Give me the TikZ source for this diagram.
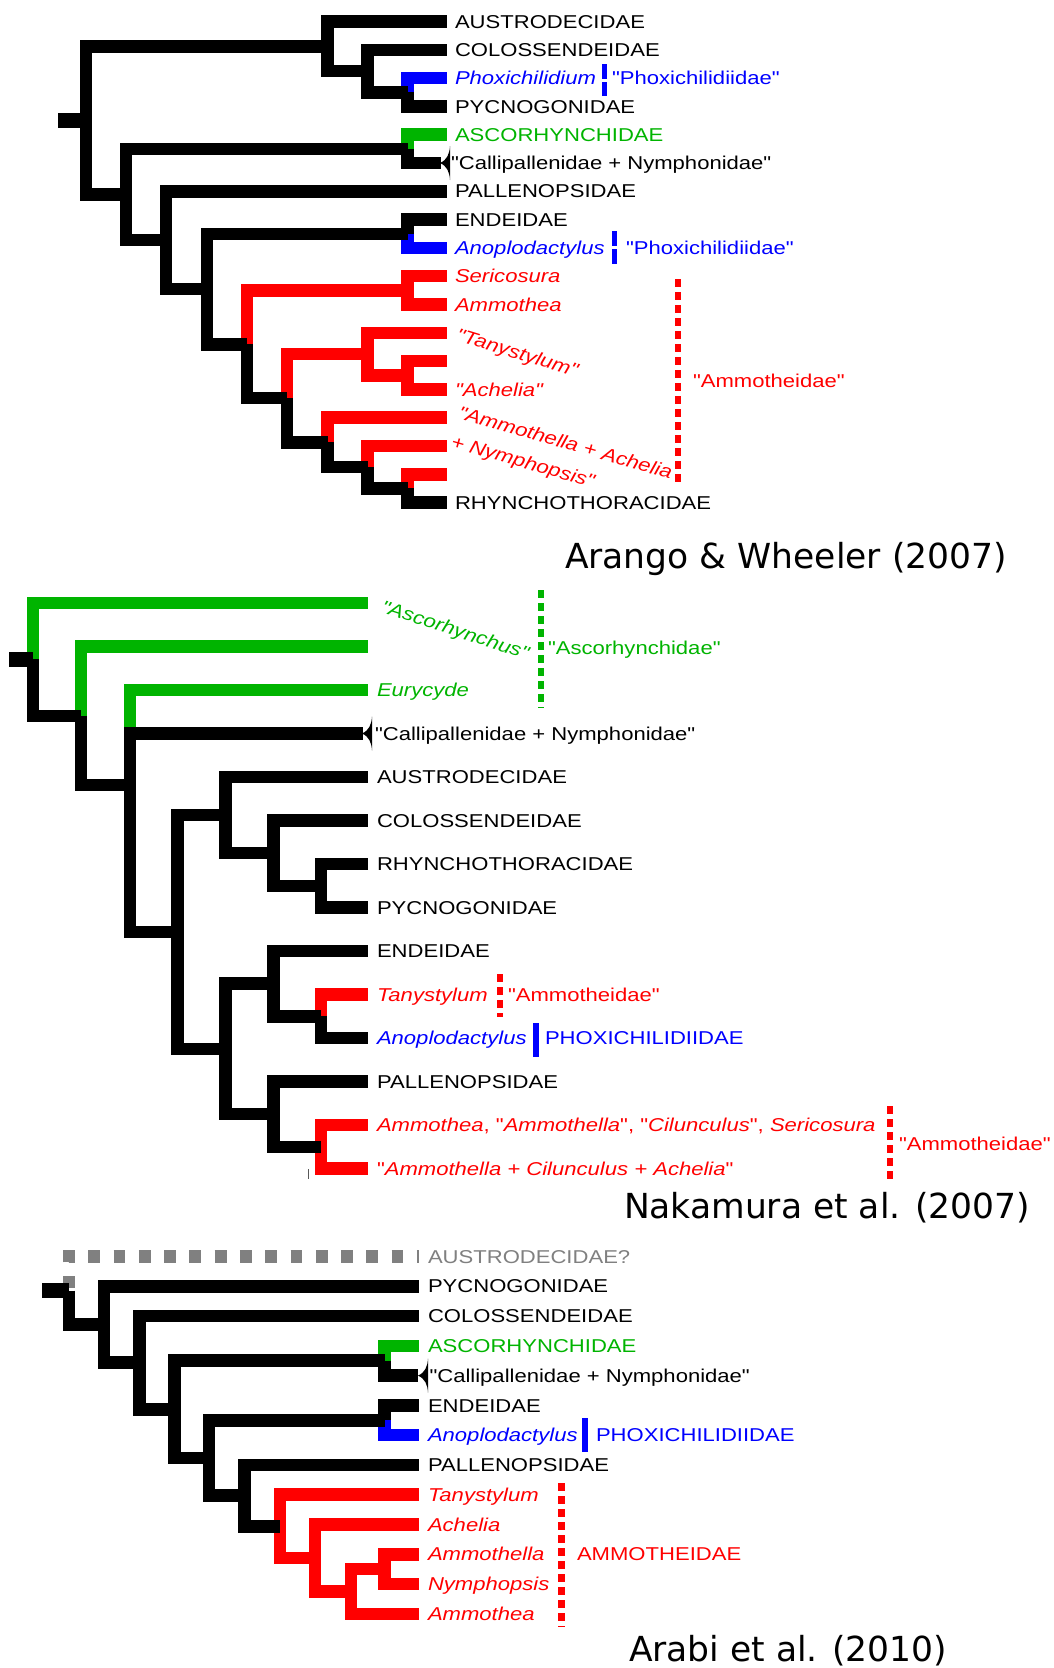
\documentclass[tikz,border=0pt]{standalone}
\usepackage{fontspec}
\newfontfamily\labfam[FakeStretch=1.186]{Liberation Sans}
\newfontfamily\titfam{DejaVu Sans}
\definecolor{cg}{RGB}{0,180,0}
\definecolor{cr}{RGB}{255,0,0}
\definecolor{cb}{RGB}{0,0,255}
\definecolor{cgr}{RGB}{128,128,128}
\begin{document}
\begin{tikzpicture}[x=1pt,y=-1pt,
  br/.style={line width=12.5pt},
  stub/.style={line width=15.5pt},
  lab/.style={anchor=base west, inner sep=0pt, outer sep=0pt, font=\labfam\fontsize{18.6}{22}\selectfont},
  tit/.style={anchor=base west, inner sep=0pt, outer sep=0pt, font=\titfam\fontsize{34.5}{40}\selectfont},
  dbar/.style={line width=6pt, dash pattern=on 8pt off 5pt},
  qbar/.style={line width=5pt, dash pattern=on 15pt off 3pt},
  sbar/.style={line width=5.5pt},
  cladetri/.pic={\fill (0,0) .. controls (7,-3) and (9.5,-9) .. (10,-17) -- (10,17) .. controls (9.5,9) and (7,3) .. (0,0) -- cycle;}
]
\fill[white] (0,0) rectangle (1054,1668);
\useasboundingbox (0,0) rectangle (1054,1668);

% ================= Arango & Wheeler (2007) =================
\coordinate (A0) at (447,21.5);
\coordinate (A1) at (447,49.8);
\coordinate (A2) at (447,78.1);
\coordinate (A3) at (447,106.4);
\coordinate (A4) at (447,134.7);
\coordinate (A5) at (441,163.0);
\coordinate (A6) at (447,191.3);
\coordinate (A7) at (447,219.6);
\coordinate (A8) at (447,247.9);
\coordinate (A9) at (447,276.2);
\coordinate (A10) at (447,304.5);
\coordinate (A11) at (447,332.8);
\coordinate (A12) at (447,361.1);
\coordinate (A13) at (447,389.4);
\coordinate (A14) at (447,417.7);
\coordinate (A15) at (447,446.0);
\coordinate (A16) at (447,474.3);
\coordinate (A17) at (447,502.6);
\coordinate (a1) at (407.5,92.25);
\coordinate (a2) at (367.5,71.0);
\coordinate (a3) at (327.5,46.25);
\coordinate (b1) at (407.5,148.85);
\coordinate (c1) at (407.5,233.75);
\coordinate (d1) at (407.5,290.35);
\coordinate (e1) at (407.5,375.25);
\coordinate (e2) at (367.5,354.0);
\coordinate (f1) at (407.5,488.45);
\coordinate (f2) at (367.5,467.2);
\coordinate (f3) at (327.5,442.45);
\coordinate (g1) at (287,398.2);
\coordinate (g2) at (247,344.3);
\coordinate (h1) at (207,289.0);
\coordinate (h2) at (166,240.15);
\coordinate (h3) at (126,194.5);
\coordinate (ar) at (86,120.4);
\coordinate (as) at (58,120.4);

\draw[br,cb] (a1) |- (A2);
\draw[br,cg] (b1) |- (A4);
\draw[br,cb] (c1) |- (A8);
\draw[br,cr] (g2) |- (d1) (d1) |- (A9) (d1) |- (A10);
\draw[br,cr] (g1) |- (e2) (e2) |- (A11) (e2) |- (e1) (e1) |- (A12) (e1) |- (A13);
\draw[br,cr] (f3) |- (A14) (f2) |- (A15) (f1) |- (A16);
\draw[br] (a3) |- (A0) (a3) |- (a2) (a2) |- (A1) (a2) |- (a1) (a1) |- (A3);
\draw[br] (ar) |- (a3) (ar) |- (h3) (h3) |- (b1) (b1) |- (A5) (h3) |- (h2) (h2) |- (A6)
  (h2) |- (h1) (h1) |- (c1) (c1) |- (A7) (h1) |- (g2) (g2) |- (g1) (g1) |- (f3)
  (f3) |- (f2) (f2) |- (f1) (f1) |- (A17);
\draw[stub] (as) -- (ar);
\pic at (440,163) {cladetri};

\draw[cb,qbar] (604.5,64) -- (604.5,96);
\draw[cb,qbar] (614.5,231) -- (614.5,265);
\draw[cr,dbar] (678,279) -- (678,485);

\node[lab] (LA0) at (455,28.15) {AUSTRODECIDAE};
\node[lab] (LA1) at (455,56.45) {COLOSSENDEIDAE};
\node[lab,cb] (LA2) at (455,84.75) {\itshape Phoxichilidium};
\node[lab,cb] (LA2b) at (612,84.75) {"Phoxichilidiidae"};
\node[lab] (LA3) at (455,113.05) {PYCNOGONIDAE};
\node[lab,cg] (LA4) at (455,141.35) {ASCORHYNCHIDAE};
\node[lab] (LA5) at (451,169.65) {"Callipallenidae + Nymphonidae"};
\node[lab] (LA6) at (455,197.95) {PALLENOPSIDAE};
\node[lab] (LA7) at (455,226.25) {ENDEIDAE};
\node[lab,cb] (LA8) at (455,254.55) {\itshape Anoplodactylus};
\node[lab,cb] (LA8b) at (626,254.55) {"Phoxichilidiidae"};
\node[lab,cr] (LA9) at (455,282.85) {\itshape Sericosura};
\node[lab,cr] (LA10) at (455,311.15) {\itshape Ammothea};
\node[lab,cr,rotate=-17] (LA11) at (455,340) {\itshape "Tanystylum"};
\node[lab,cr] (LA13) at (455,396.05) {\itshape "Achelia"};
\node[lab,cr,rotate=-16] (LA14) at (457,418) {\itshape "Ammothella + Achelia};
\node[lab,cr,rotate=-16] (LA15) at (450,447) {\itshape + Nymphopsis"};
\node[lab] (LA17) at (455,509.25) {RHYNCHOTHORACIDAE};
\node[lab,cr] (LAm) at (693,387.6) {"Ammotheidae"};
\node[tit] (TA) at (565,568) {Arango \& Wheeler (2007)};

% ================= Nakamura et al. (2007) =================
\coordinate (B0) at (368,603);
\coordinate (B1) at (368,646.5);
\coordinate (B2) at (368,690);
\coordinate (B3) at (363,733.5);
\coordinate (B4) at (368,777);
\coordinate (B5) at (368,820.5);
\coordinate (B6) at (368,864);
\coordinate (B7) at (368,907.5);
\coordinate (B8) at (368,951);
\coordinate (B9) at (368,994.5);
\coordinate (B10) at (368,1038);
\coordinate (B11) at (368,1081.5);
\coordinate (B12) at (368,1125);
\coordinate (B13) at (368,1168.5);
\coordinate (m1) at (33,659.4);
\coordinate (ms) at (9,659.4);
\coordinate (m2) at (81,715.8);
\coordinate (m3) at (130,785.2);
\coordinate (mb) at (177.5,931.97);
\coordinate (mau) at (225.5,815.06);
\coordinate (mco) at (273.5,853.1);
\coordinate (mpn) at (321,885.75);
\coordinate (md) at (225.5,1048.9);
\coordinate (men) at (273.5,983.6);
\coordinate (mta) at (321,1016.25);
\coordinate (mpa) at (273.5,1114.1);
\coordinate (mam) at (321,1146.75);

\draw[br,cg] (m1) |- (B0) (m2) |- (B1) (m3) |- (B2);
\draw[br,cr] (mta) |- (B9) (mam) |- (B12) (mam) |- (B13);
\draw[br] (m1) |- (m2) (m2) |- (m3) (m3) |- (B3) (m3) |- (mb) (mb) |- (mau)
  (mau) |- (B4) (mau) |- (mco) (mco) |- (B5) (mco) |- (mpn) (mpn) |- (B6) (mpn) |- (B7)
  (mb) |- (md) (md) |- (men) (men) |- (B8) (men) |- (mta) (mta) |- (B10)
  (md) |- (mpa) (mpa) |- (B11) (mpa) |- (mam);
\draw[stub] (ms) -- (m1);
\pic at (362,733.5) {cladetri};
\draw[gray!70!black, line width=1.2pt] (308.5,1169) -- (308.5,1179);

\draw[cg,dbar] (540.5,590) -- (540.5,708);
\draw[cr,dbar] (500,974) -- (500,1017);
\draw[cb,sbar] (536,1023) -- (536,1057);
\draw[cr,dbar] (889.5,1106) -- (889.5,1183);

\node[lab,cg,rotate=-18] (LB0) at (380,612) {\itshape "Ascorhynchus"};
\node[lab,cg] (LB1b) at (548,654.15) {"Ascorhynchidae"};
\node[lab,cg] (LB2) at (377,696.65) {\itshape Eurycyde};
\node[lab] (LB3) at (375,740.15) {"Callipallenidae + Nymphonidae"};
\node[lab] (LB4) at (377,783.65) {AUSTRODECIDAE};
\node[lab] (LB5) at (377,827.15) {COLOSSENDEIDAE};
\node[lab] (LB6) at (377,870.65) {RHYNCHOTHORACIDAE};
\node[lab] (LB7) at (377,914.15) {PYCNOGONIDAE};
\node[lab] (LB8) at (377,957.65) {ENDEIDAE};
\node[lab,cr] (LB9) at (377,1001.15) {\itshape Tanystylum};
\node[lab,cr] (LB9b) at (508,1001.15) {"Ammotheidae"};
\node[lab,cb] (LB10) at (377,1044.65) {\itshape Anoplodactylus};
\node[lab,cb] (LB10b) at (545,1044.65) {PHOXICHILIDIIDAE};
\node[lab] (LB11) at (377,1088.15) {PALLENOPSIDAE};
\node[lab,cr] (LB12) at (377,1131.65) {{\itshape Ammothea}, "{\itshape Ammothella}", "{\itshape Cilunculus}", {\itshape Sericosura}};
\node[lab,cr] (LB13) at (377,1175.15) {"{\itshape Ammothella + Cilunculus + Achelia}"};
\node[lab,cr] (LBm) at (899,1150.7) {"Ammotheidae"};
\node[tit] (TB) at (624,1218.5) {Nakamura et al. (2007)};

% ================= Arabi et al. (2010) =================
\coordinate (C0) at (419,1256.5);
\coordinate (C1) at (419,1286.3);
\coordinate (C2) at (419,1316.1);
\coordinate (C3) at (419,1345.8);
\coordinate (C4) at (418,1375.6);
\coordinate (C5) at (419,1405.4);
\coordinate (C6) at (419,1435.2);
\coordinate (C7) at (419,1465.0);
\coordinate (C8) at (419,1494.7);
\coordinate (C9) at (419,1524.5);
\coordinate (C10) at (419,1554.3);
\coordinate (C11) at (419,1584.1);
\coordinate (C12) at (419,1613.9);
\coordinate (qr) at (69,1290.5);
\coordinate (qs) at (42,1290.5);
\coordinate (qa) at (104,1324.5);
\coordinate (qb) at (139.5,1362.7);
\coordinate (qc) at (174.5,1409.35);
\coordinate (qas) at (384.5,1360.7);
\coordinate (qe2) at (209,1458.0);
\coordinate (qen) at (384.5,1420.3);
\coordinate (qpa) at (244.5,1495.7);
\coordinate (q1) at (280,1526.35);
\coordinate (q2) at (315,1558.0);
\coordinate (q3) at (351,1591.55);
\coordinate (qam) at (384.5,1569.2);

\draw[br,cgr,dash pattern=on 11.8pt off 13.46pt,dash phase=22.36pt] (qr) |- (C0);
\draw[br,cg] (qas) |- (C3);
\draw[br,cb] (qen) |- (C6);
\draw[br,cr] (q1) |- (C8) (q1) |- (q2) (q2) |- (C9) (q2) |- (q3) (q3) |- (qam)
  (qam) |- (C10) (qam) |- (C11) (q3) |- (C12);
\draw[br] (qr) |- (qa) (qa) |- (C1) (qa) |- (qb) (qb) |- (C2) (qb) |- (qc) (qc) |- (qas)
  (qas) |- (C4) (qc) |- (qe2) (qe2) |- (qen) (qen) |- (C5) (qe2) |- (qpa) (qpa) |- (C7)
  (qpa) |- (q1);
\draw[stub] (qs) -- (qr);
\pic at (418,1375.6) {cladetri};

\draw[cb,sbar] (585,1418) -- (585,1452);
\draw[cr,dbar,line width=7pt] (561,1483) -- (561,1627);

\node[lab,cgr] (LC0) at (428,1263.15) {AUSTRODECIDAE?};
\node[lab] (LC1) at (428,1292.95) {PYCNOGONIDAE};
\node[lab] (LC2) at (428,1322.75) {COLOSSENDEIDAE};
\node[lab,cg] (LC3) at (428,1352.45) {ASCORHYNCHIDAE};
\node[lab] (LC4) at (429.5,1382.25) {"Callipallenidae + Nymphonidae"};
\node[lab] (LC5) at (428,1412.05) {ENDEIDAE};
\node[lab,cb] (LC6) at (428,1441.85) {\itshape Anoplodactylus};
\node[lab,cb] (LC6b) at (596,1441.85) {PHOXICHILIDIIDAE};
\node[lab] (LC7) at (428,1471.65) {PALLENOPSIDAE};
\node[lab,cr] (LC8) at (428,1501.35) {\itshape Tanystylum};
\node[lab,cr] (LC9) at (428,1531.15) {\itshape Achelia};
\node[lab,cr] (LC10) at (428,1560.95) {\itshape Ammothella};
\node[lab,cr] (LC11) at (428,1590.75) {\itshape Nymphopsis};
\node[lab,cr] (LC12) at (428,1620.55) {\itshape Ammothea};
\node[lab,cr] (LCm) at (577,1560) {AMMOTHEIDAE};
\node[tit] (TC) at (629,1661.5) {Arabi et al. (2010)};
\end{tikzpicture}
\end{document}
